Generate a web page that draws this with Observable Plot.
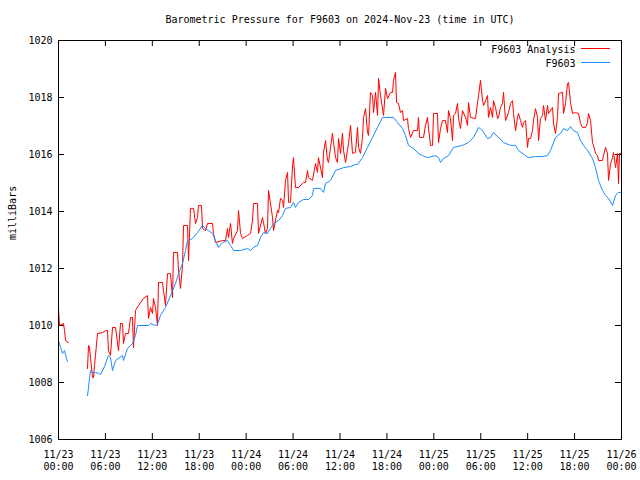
<!DOCTYPE html>
<html><head><meta charset="utf-8">
<script src="https://cdn.jsdelivr.net/npm/d3@7"></script>
<script src="https://cdn.jsdelivr.net/npm/@observablehq/plot@0.6"></script>
<style>body{margin:0;background:#fff} svg{display:block}</style>
</head><body><div id="chart"></div>
<script>
const chartTitle = "Barometric Pressure for F9603 on 2024-Nov-23 (time in UTC)";
const yLabel = "milliBars";
const seriesNames = ["F9603 Analysis", "F9603"];
const seriesColors = ["#ff0000", "#1a8cff"];
const startUTC = Date.UTC(2024, 10, 23);
const xTickHours = [0, 6, 12, 18, 24, 30, 36, 42, 48, 54, 60, 66, 72];
const yTicks = [1006, 1008, 1010, 1012, 1014, 1016, 1018, 1020];

// [hours since 11/23 00:00 UTC, milliBars]; null marks the data gap
const analysis = [[0,1010.6],[0.13,1010.0],[0.64,1010.07],[0.77,1009.82],[0.9,1009.47],[1.28,1009.40],[2.5,null],
[3.71,1008.49],[3.84,1009.30],[3.96,1009.23],[4.09,1008.88],[4.35,1008.18],[4.48,1008.18],[4.6,1008.6],[4.73,1008.95],[4.99,1009.72],[5.63,1009.75],[6.01,1009.82],[6.27,1009.82],[6.39,1009.12],[6.65,1008.95],[6.91,1009.93],[7.29,1009.93],[7.55,1009.40],[7.67,1009.12],[7.93,1010.07],[8.19,1010.07],[8.31,1009.37],[8.57,1009.72],[8.95,1009.72],[9.21,1010.28],[9.46,1010.28],[9.59,1009.23],[9.85,1010.53],[10.23,1010.70],[10.87,1010.95],[11.38,1011.05],[11.51,1010.25],[11.77,1010.63],[12.02,1010.42],[12.15,1010.95],[12.41,1010.63],[12.66,1010.0],[12.79,1011.51],[13.3,1011.51],[13.43,1011.23],[13.68,1010.70],[13.94,1011.82],[14.32,1011.82],[14.58,1010.98],[14.71,1012.56],[15.22,1012.56],[15.35,1011.93],[15.6,1011.30],[15.86,1012.11],[15.99,1013.51],[16.5,1013.51],[16.63,1012.28],[16.88,1014.11],[17.27,1014.11],[17.52,1013.58],[17.78,1013.79],[17.9,1014.21],[18.29,1014.21],[18.42,1013.40],[18.8,1013.33],[19.06,1013.58],[19.7,1013.58],[19.82,1013.23],[20.08,1012.91],[20.97,1012.98],[21.36,1012.98],[21.61,1013.40],[21.74,1013.09],[22.0,1013.58],[22.25,1012.88],[22.38,1013.05],[22.89,1013.33],[23.02,1014.04],[23.28,1013.23],[23.53,1013.05],[24.17,1013.16],[24.56,1013.23],[24.81,1013.68],[24.94,1014.28],[25.45,1014.28],[25.58,1013.23],[26.09,1013.79],[26.22,1013.61],[26.47,1013.23],[26.73,1013.40],[26.86,1014.74],[27.11,1014.28],[27.37,1013.79],[27.5,1013.33],[28.01,1014.04],[28.14,1013.96],[28.39,1014.46],[28.65,1014.39],[28.78,1014.14],[29.03,1015.09],[29.29,1015.37],[29.42,1014.32],[29.67,1014.32],[29.93,1015.61],[30.05,1015.89],[30.31,1014.84],[30.69,1014.84],[31.33,1015.02],[31.59,1015.02],[31.85,1015.44],[31.97,1015.19],[32.48,1015.09],[32.87,1015.68],[33.12,1015.37],[33.25,1015.89],[33.76,1015.19],[33.89,1016.07],[34.15,1016.49],[34.4,1015.79],[34.53,1015.72],[34.79,1016.25],[35.04,1016.74],[35.17,1016.42],[35.43,1015.89],[35.68,1015.72],[35.81,1016.56],[36.07,1016.04],[36.32,1016.74],[36.45,1016.14],[36.71,1015.72],[37.09,1016.39],[37.35,1017.02],[37.6,1016.04],[37.98,1016.07],[38.24,1016.95],[38.37,1016.25],[38.62,1016.04],[38.88,1016.60],[39.01,1017.30],[39.26,1017.61],[39.52,1016.77],[39.65,1016.67],[39.9,1018.18],[40.16,1018.07],[40.29,1017.47],[40.54,1018.18],[40.8,1017.37],[40.93,1018.67],[41.18,1018.07],[41.57,1017.37],[41.82,1018.32],[42.08,1017.96],[42.46,1018.18],[42.72,1018.18],[42.84,1018.60],[43.1,1018.88],[43.23,1017.82],[43.48,1017.79],[43.74,1017.47],[44.0,1017.54],[44.12,1017.19],[44.63,1017.26],[44.76,1016.91],[45.02,1016.60],[45.4,1016.84],[45.91,1016.84],[46.04,1017.30],[46.17,1016.60],[46.68,1016.60],[46.94,1017.02],[47.19,1017.30],[47.32,1016.91],[47.58,1016.32],[47.83,1016.32],[47.96,1017.44],[48.47,1017.44],[48.6,1016.42],[48.86,1016.91],[49.11,1017.19],[49.49,1017.19],[49.75,1016.77],[49.88,1017.54],[50.13,1017.26],[50.39,1016.49],[50.52,1017.37],[50.77,1017.44],[51.03,1017.79],[51.16,1017.26],[51.41,1016.91],[51.67,1017.54],[52.05,1017.30],[52.31,1017.02],[52.44,1017.82],[52.69,1017.30],[53.33,1017.26],[53.59,1017.82],[53.72,1018.07],[53.97,1018.60],[54.23,1017.89],[54.36,1017.72],[54.61,1017.89],[54.87,1018.07],[54.99,1017.30],[55.25,1017.65],[55.51,1017.30],[55.63,1017.89],[55.89,1017.65],[56.15,1017.26],[56.27,1017.30],[56.53,1017.65],[56.78,1017.79],[56.91,1018.18],[57.17,1017.19],[57.55,1017.47],[57.81,1017.79],[58.06,1017.89],[58.19,1017.44],[58.45,1016.84],[58.7,1017.30],[58.83,1017.44],[59.09,1017.19],[59.34,1016.95],[59.47,1017.12],[59.73,1017.19],[59.98,1016.25],[60.11,1016.56],[60.37,1016.56],[60.62,1016.84],[60.75,1017.19],[61.0,1017.61],[61.26,1017.30],[61.39,1016.49],[61.64,1017.26],[61.9,1017.37],[62.03,1017.72],[62.28,1017.19],[62.54,1017.72],[62.67,1017.44],[63.18,1017.65],[63.31,1017.09],[63.56,1016.74],[63.82,1017.30],[63.95,1018.14],[64.46,1018.18],[64.59,1017.44],[64.84,1017.79],[65.1,1018.49],[65.23,1018.53],[65.48,1017.82],[65.74,1017.44],[66.12,1017.47],[66.5,1017.44],[66.76,1017.09],[67.01,1016.95],[67.4,1016.95],[67.66,1017.12],[67.78,1017.44],[68.04,1017.19],[68.3,1016.39],[68.42,1016.32],[68.68,1016.04],[68.93,1015.96],[69.06,1015.79],[69.57,1015.79],[69.7,1015.96],[69.96,1016.25],[70.21,1016.04],[70.34,1015.09],[70.6,1015.68],[70.85,1015.89],[70.98,1016.07],[71.24,1015.54],[71.49,1016.04],[71.62,1014.98],[71.75,1016.04],[72.0,1016.04]];

const f9603 = [[0,1009.47],[0.26,1009.23],[0.51,1009.02],[0.77,1009.12],[1.02,1008.84],[1.15,1008.74],[2.5,null],
[3.71,1007.54],[3.84,1007.82],[3.96,1008.14],[4.09,1008.42],[4.35,1008.35],[4.73,1008.35],[5.12,1008.32],[5.37,1008.28],[5.88,1008.56],[6.39,1008.95],[6.65,1008.88],[6.91,1008.42],[7.29,1008.77],[8.19,1008.95],[8.31,1008.77],[8.82,1009.19],[9.46,1009.37],[9.85,1009.65],[10.1,1010.0],[11.51,1010.0],[11.77,1010.07],[12.41,1010.0],[12.66,1010.04],[13.04,1010.35],[13.68,1010.63],[14.32,1011.05],[14.96,1011.47],[15.35,1011.82],[15.86,1012.18],[16.24,1012.63],[16.5,1012.98],[17.14,1013.05],[17.78,1013.26],[18.42,1013.51],[18.8,1013.40],[19.7,1013.23],[20.08,1012.98],[20.46,1012.74],[20.97,1012.91],[21.61,1012.98],[22.0,1012.81],[22.38,1012.63],[23.28,1012.63],[24.17,1012.70],[24.56,1012.63],[24.94,1012.74],[25.45,1012.81],[25.83,1013.09],[26.22,1013.26],[26.73,1013.23],[27.11,1013.40],[27.5,1013.58],[28.14,1013.68],[28.65,1013.86],[29.03,1014.11],[29.67,1014.14],[30.05,1014.32],[30.31,1014.14],[30.69,1014.32],[31.33,1014.42],[31.97,1014.42],[32.48,1014.56],[32.61,1014.81],[33.51,1014.81],[33.89,1014.67],[34.15,1014.98],[34.79,1015.09],[35.43,1015.44],[36.45,1015.54],[37.35,1015.58],[37.98,1015.65],[38.24,1015.65],[38.88,1015.89],[39.52,1016.25],[40.16,1016.6],[40.8,1016.95],[41.44,1017.30],[41.82,1017.30],[42.84,1017.30],[43.36,1017.12],[44.0,1016.91],[44.38,1016.67],[44.76,1016.32],[45.4,1016.21],[46.04,1016.04],[46.55,1015.96],[47.19,1015.89],[48.22,1015.96],[48.6,1015.89],[48.86,1015.72],[49.24,1015.86],[49.88,1015.96],[50.52,1016.25],[51.67,1016.32],[52.44,1016.42],[53.08,1016.6],[53.72,1016.95],[54.23,1016.84],[54.87,1016.56],[55.25,1016.6],[55.63,1016.77],[56.27,1016.6],[56.91,1016.42],[57.81,1016.32],[58.45,1016.32],[58.83,1016.14],[59.73,1015.96],[60.11,1015.89],[61.0,1015.93],[61.9,1015.93],[62.54,1015.96],[62.92,1016.14],[63.56,1016.6],[64.2,1016.74],[64.59,1016.91],[65.1,1016.84],[65.48,1016.98],[65.86,1016.84],[66.38,1016.77],[66.76,1016.49],[67.14,1016.32],[67.66,1016.14],[68.3,1015.86],[68.68,1015.54],[69.06,1015.09],[69.57,1014.74],[69.96,1014.56],[70.34,1014.46],[70.85,1014.21],[71.24,1014.56],[71.62,1014.67],[72.0,1014.67]];

const toDate = h => new Date(startUTC + h * 3600000);
const rows = (pairs, name) => pairs.map(([h, v]) => ({time: toDate(h), mbar: v, series: name}));
const data = [...rows(analysis, seriesNames[0]), ...rows(f9603, seriesNames[1])];
const xTicks = xTickHours.map(toDate);

const W = 640, H = 480, mL = 58, mR = 19, mT = 40, mB = 41;
const innerW = W - mL - mR, innerH = H - mT - mB, tk = 6;

const chart = Plot.plot({
  width: W, height: H,
  marginLeft: mL, marginRight: mR, marginTop: mT, marginBottom: mB,
  style: {fontFamily: "'DejaVu Sans Mono', monospace", fontSize: "10px", background: "#fff", color: "#000"},
  x: {type: "utc", domain: [toDate(0), toDate(72)]},
  y: {domain: [1006, 1020]},
  color: {domain: seriesNames, range: seriesColors},
  marks: [
    Plot.axisY(yTicks, {tickSize: 0, tickPadding: 6, label: null, tickFormat: d => String(d)}),
    Plot.axisX(xTicks, {tickSize: 0, tickPadding: 10, lineHeight: 1.2, tickFormat: d3.utcFormat("%m/%d\n%H:%M"), label: null}),
    Plot.tickY(yTicks, {y: d => d, insetRight: innerW - tk, stroke: "#000"}),
    Plot.tickY(yTicks, {y: d => d, insetLeft: innerW - tk, stroke: "#000"}),
    Plot.tickX(xTicks, {x: d => d, insetTop: innerH - tk, stroke: "#000"}),
    Plot.tickX(xTicks, {x: d => d, insetBottom: innerH - tk, stroke: "#000"}),
    Plot.line(data, {x: "time", y: "mbar", z: "series", stroke: "series", strokeWidth: 1}),
    Plot.frame({stroke: "#000"}),
    Plot.text([chartTitle], {frameAnchor: "top", lineAnchor: "middle", dy: -21}),
    Plot.text([yLabel], {frameAnchor: "left", lineAnchor: "middle", dx: -46, rotate: -90}),
    Plot.text([seriesNames[0]], {frameAnchor: "top-right", lineAnchor: "middle", textAnchor: "end", dx: -46, dy: 9}),
    Plot.text([seriesNames[1]], {frameAnchor: "top-right", lineAnchor: "middle", textAnchor: "end", dx: -46, dy: 23})
  ]
});

// legend line samples
const svg = d3.select(chart);
[8, 22].forEach((dy, i) => {
  svg.append("line")
    .attr("x1", W - mR - 40).attr("x2", W - mR - 11)
    .attr("y1", mT + dy + 0.5).attr("y2", mT + dy + 0.5)
    .attr("stroke", seriesColors[i]).attr("stroke-width", 1);
});
document.getElementById("chart").appendChild(chart);
</script>
</body></html>
